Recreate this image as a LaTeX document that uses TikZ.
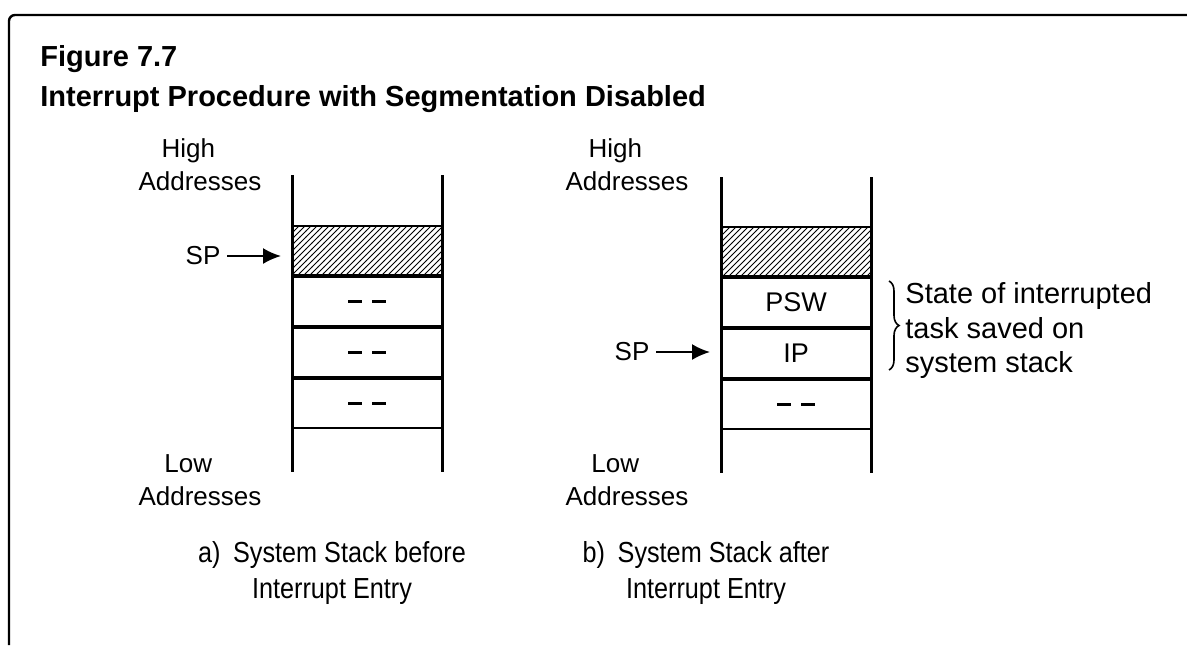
\documentclass[tikz,border=0pt]{standalone}
\usepackage{fontspec}
\setmainfont{Liberation Sans}
\usepackage{tikz}
\usetikzlibrary{arrows.meta, positioning, patterns, decorations.pathreplacing}

\newcommand{\narrowtext}[1]{\scalebox{0.87}[1]{#1}}
\newcommand{\emptyslot}{\rule{7pt}{1.7pt}\hspace{5pt}\rule{7pt}{1.7pt}}

\begin{document}
\begin{tikzpicture}[
    x=0.5pt, y=-0.5pt,
    cell/.style={rectangle, draw=black, line width=1pt, minimum width=75pt, minimum height=24.5pt, inner sep=0pt, font=\fontsize{13.5}{16}\selectfont},
    used/.style={cell, pattern=north east lines},
    rail/.style={line width=1.5pt},
    addr/.style={font=\fontsize{13}{16.5}\selectfont, align=center},
    title/.style={font=\fontsize{14.5}{20}\selectfont\bfseries, anchor=base west, inner sep=0pt},
    caption/.style={font=\fontsize{14.5}{18}\selectfont, align=center},
    pointer/.style={-{Latex[length=9pt, width=8pt]}, line width=1pt, shorten >=5pt}
]
\useasboundingbox (0,0) rectangle (1187,645);

% Frame and title
\draw[line width=1.2pt, rounded corners=3pt] (9,645) -- (9,15) -- (1187,15);
\node[title] (ttl1) at (40,66) {Figure 7.7};
\node[title] (ttl2) at (40,106) {Interrupt Procedure with Segmentation Disabled};

% Stack before interrupt (left)
\node[addr] (hia) at (200,165) {High\hspace*{0.9em}\\Addresses};
\node[addr] (loa) at (200,480) {Low\hspace*{0.9em}\\Addresses};
\node[used] (la0) at (367,250.5) {};
\node[cell, below=0pt of la0] (la1) {\emptyslot};
\node[cell, below=0pt of la1] (la2) {\emptyslot};
\node[cell, below=0pt of la2] (la3) {\emptyslot};
\draw[rail] (292,175) -- (292,472);
\draw[rail] (442,175) -- (442,472);
\node[addr] (spa) at (203,256) {SP};
\draw[pointer] (spa.east) -- (spa -| la0.west);
\node[caption] (capa) at (332,573) {\narrowtext{a)\enspace System Stack before}\\\narrowtext{Interrupt Entry}};

% Stack after interrupt (right)
\node[addr] (hib) at (627,165) {High\hspace*{0.9em}\\Addresses};
\node[addr] (lob) at (627,480) {Low\hspace*{0.9em}\\Addresses};
\node[used] (lb0) at (796,251.5) {};
\node[cell, below=0pt of lb0] (lb1) {PSW};
\node[cell, below=0pt of lb1] (lb2) {IP};
\node[cell, below=0pt of lb2] (lb3) {\emptyslot};
\draw[rail] (721,177) -- (721,473);
\draw[rail] (871,177) -- (871,473);
\node[addr] (spb) at (632,352) {SP};
\draw[pointer] (spb.east) -- (spb -| lb0.west);
\node[caption] (capb) at (706,573) {\narrowtext{b)\enspace System Stack after}\\\narrowtext{Interrupt Entry}};

% Saved state
\coordinate (brtop) at (889,281);
\coordinate (brbot) at (889,370);
\draw[line width=0.8pt, decorate, decoration={brace, amplitude=5pt}] (brtop) -- (brbot);
\node[font=\fontsize{14.5}{17.25}\selectfont, align=left, anchor=west, inner sep=0pt] (state) at (905,330.5) {State of interrupted\\task saved on\\system stack};
\end{tikzpicture}
\end{document}
